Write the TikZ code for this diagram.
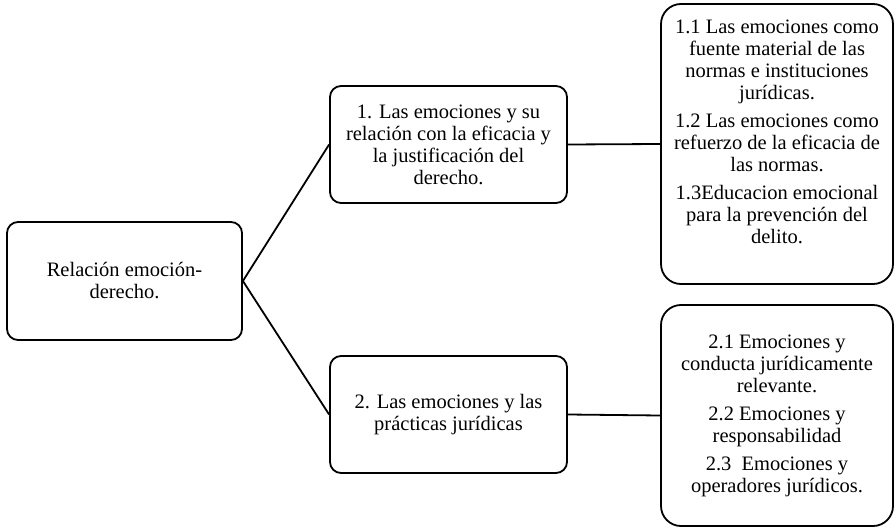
\documentclass[tikz,border=0pt]{standalone}
\usepackage{fontspec}
\setmainfont{Liberation Serif}
\begin{document}
\begin{tikzpicture}[x=1pt,y=-1pt,
  box/.style={draw=black, line width=1.8pt, rounded corners=11pt, inner sep=0pt,
    align=center, font=\fontsize{20.5}{22}\selectfont},
  bigbox/.style={box, rounded corners=20pt, minimum width=232pt},
  txt/.style={inner sep=0pt, align=center, font=\fontsize{20.5}{22}\selectfont},
  link/.style={draw=black, line width=1.8pt}]
\useasboundingbox (0,0) rectangle (896,529);
\node[box, minimum width=235pt, minimum height=118pt] (root) at (124.5,281)
  {Relación emoción-\\derecho.};
\node[box, minimum width=237pt, minimum height=117pt] (a) at (448.5,144.5)
  {1. Las emociones y su\\relación con la eficacia y\\la justificación del\\derecho.};
\node[box, minimum width=237pt, minimum height=117pt] (b) at (448.5,414.5)
  {2. Las emociones y las\\prácticas jurídicas};
\node[bigbox, minimum height=280pt] (r1) at (777,144) {};
\node[txt] (r1t) at (777,132)
  {1.1 Las emociones como\\fuente material de las\\normas e instituciones\\jurídicas.\\[6pt]
   1.2 Las emociones como\\refuerzo de la eficacia de\\las normas.\\[6pt]
   1.3Educacion emocional\\para la prevención del\\delito.};
\node[bigbox, minimum height=221pt] (r2) at (777,415.5)
  {2.1 Emociones y\\conducta jurídicamente\\relevante.\\[6pt]
   2.2 Emociones y\\responsabilidad\\[6pt]
   2.3\ \ Emociones y\\operadores jurídicos.};
\draw[link] (root.east) -- (a.west);
\draw[link] (root.east) -- (b.west);
\draw[link] (a.east) -- (r1.west);
\draw[link] (b.east) -- (r2.west);
\end{tikzpicture}
\end{document}
